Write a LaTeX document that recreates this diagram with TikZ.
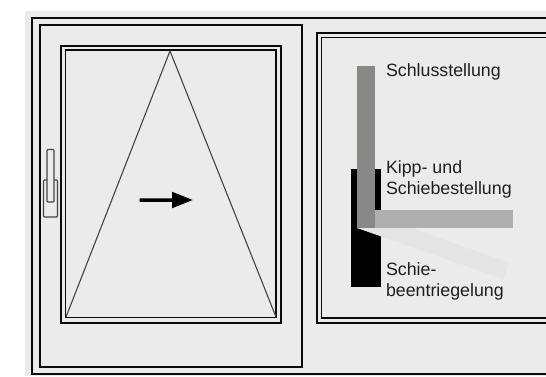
\documentclass[tikz,border=0pt]{standalone}
\usepackage{fontspec}
\setmainfont{Liberation Sans}
\definecolor{bgc}{HTML}{EBEBEB}
\definecolor{barc}{HTML}{888886}
\definecolor{horc}{HTML}{AFAFAF}
\definecolor{diac}{HTML}{E5E5E5}
\definecolor{inkc}{HTML}{0A0A0A}
\definecolor{thinc}{HTML}{444444}
\tikzset{
  frame/.style={draw=inkc,line width=1.6pt},
  thinframe/.style={draw=inkc,line width=1.1pt},
  handlebox/.style={draw=thinc,line width=1.1pt,rounded corners=0.8pt},
  lab/.style={anchor=base west,inner sep=0pt,outer sep=0pt,text=black!88,font=\fontsize{17.8}{21}\selectfont}
}
\begin{document}
\begin{tikzpicture}[x=1pt,y=-1pt]
\useasboundingbox (0,0) rectangle (546,377);
\fill[white] (0,0) rectangle (546,377);
\fill[bgc] (25,11) rectangle (546,376);
% frames
\draw[frame] (546,18) -- (32,18) -- (32,374) -- (546,374);
\draw[frame] (40,25) rectangle (302,367);
\draw[frame] (61,46) rectangle (281,323);
\draw[thinframe] (65.5,50) rectangle (276,317.5);
\draw[frame] (546,33) -- (317,33) -- (317,323) -- (546,323);
\draw[thinframe] (546,37.5) -- (321.7,37.5) -- (321.7,318) -- (546,318);
% sash hinge lines
\draw[draw=thinc,line width=1.1pt,line join=round] (66,317) -- (170,51) -- (276,317);
% handle
\draw[handlebox] (43.5,180) rectangle (57.5,217);
\filldraw[handlebox,fill=bgc] (47,149.5) rectangle (54,202);
% arrow
\fill[black] (139.7,198.4) -- (172,198.4) -- (172,191.7) -- (192.7,200) -- (172,208.3) -- (172,201.8) -- (139.7,201.8) -- cycle;
% positions
\fill[black] (351,169) rectangle (381,286.7);
\fill[diac] (363,211) -- (509,262.7) -- (503,279) -- (357,228) -- cycle;
\fill[horc] (375,210) rectangle (513,228);
\fill[barc] (357,66) rectangle (375,228);
% labels
\node[lab] (closed) at (386,77) {Schlusstellung};
\node[lab] (tilt1) at (386,173) {Kipp- und};
\node[lab] (tilt2) at (386,194) {Schiebestellung};
\node[lab] (unl1) at (386,275) {Schie-};
\node[lab] (unl2) at (386,296) {beentriegelung};
\end{tikzpicture}
\end{document}
